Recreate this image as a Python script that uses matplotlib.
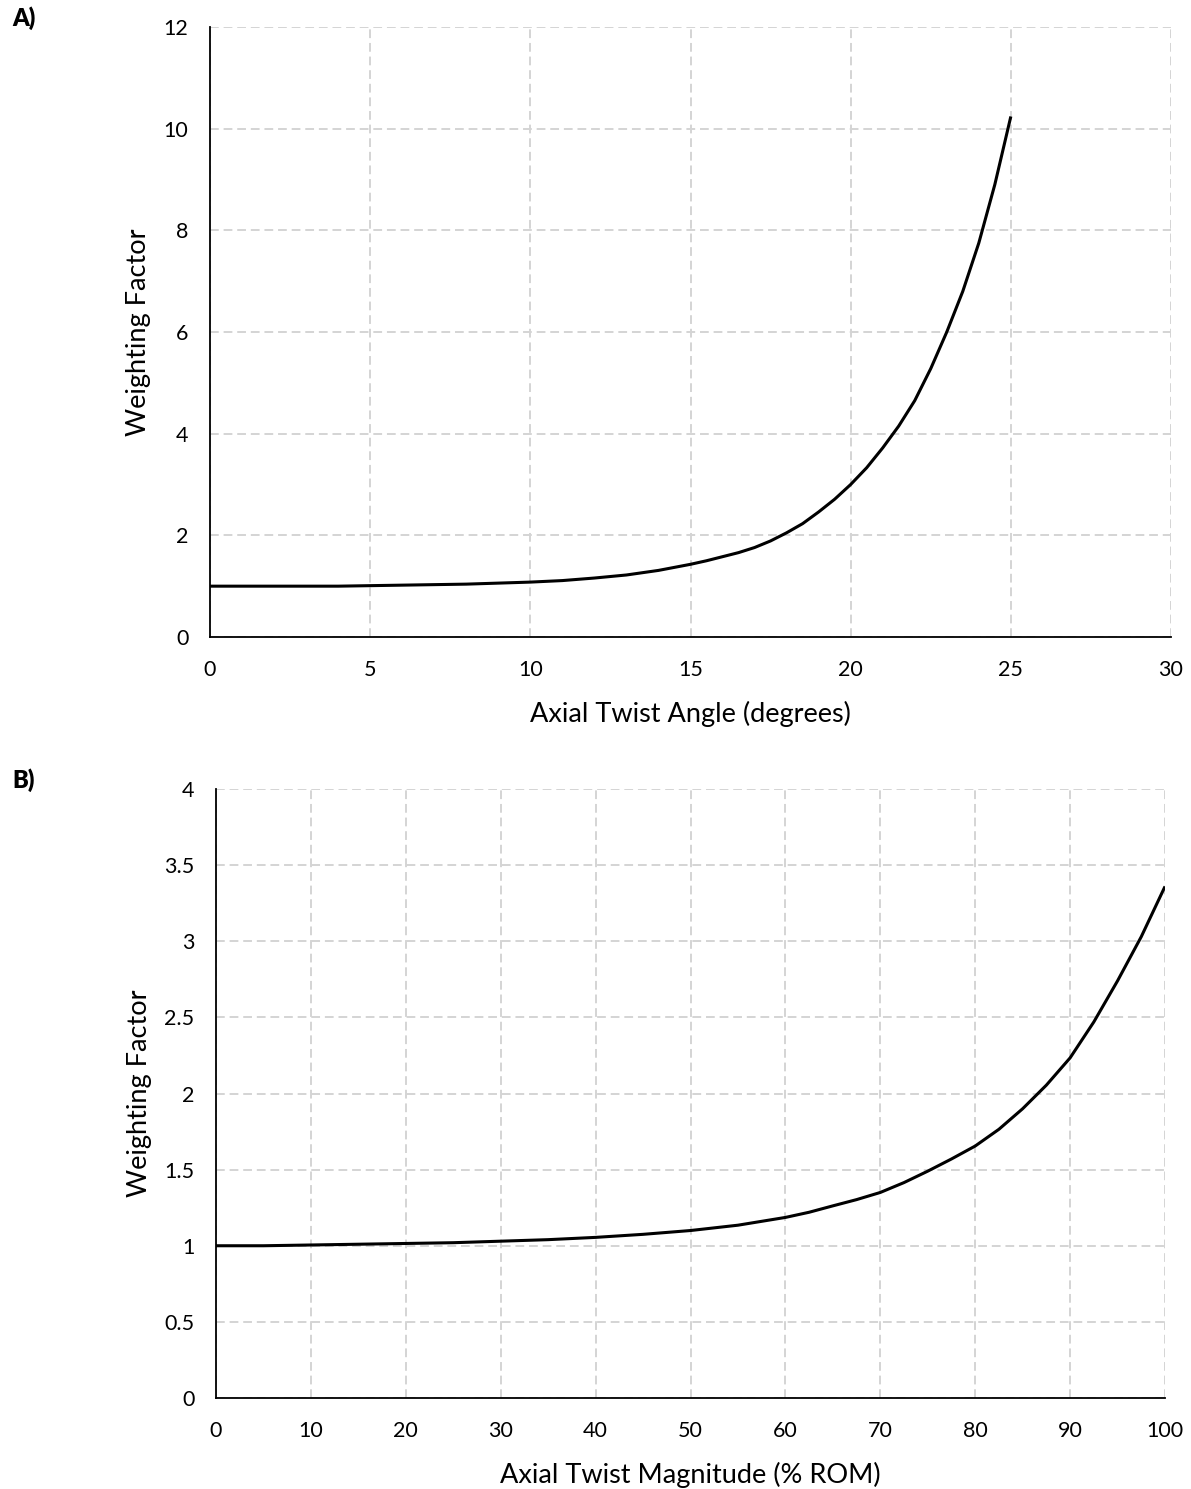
import numpy as np
import matplotlib.pyplot as plt

plt.rcParams['font.family'] = ['Lato', 'DejaVu Sans']

# panel A: weighting factor vs axial twist angle (degrees)
angle_deg = [0, 1, 2, 3, 4, 5, 6, 7, 8, 9, 10, 11, 12, 13, 14, 15, 15.5, 16, 16.5,
             17, 17.5, 18, 18.5, 19, 19.5, 20, 20.5, 21, 21.5, 22, 22.5, 23, 23.5,
             24, 24.5, 25]
weight_a = [1.00, 1.00, 1.00, 1.00, 1.00, 1.01, 1.02, 1.03, 1.04, 1.06, 1.08, 1.11,
            1.16, 1.22, 1.31, 1.43, 1.50, 1.58, 1.66, 1.76, 1.89, 2.05, 2.23, 2.46,
            2.71, 3.00, 3.33, 3.72, 4.15, 4.65, 5.28, 6.00, 6.80, 7.75, 8.90, 10.24]

# panel B: weighting factor vs axial twist magnitude (% ROM)
rom_pct = [0, 5, 10, 15, 20, 25, 30, 35, 40, 45, 50, 55, 60, 62.5, 65, 67.5, 70,
           72.5, 75, 77.5, 80, 82.5, 85, 87.5, 90, 92.5, 95, 97.5, 100]
weight_b = [1.00, 1.00, 1.005, 1.01, 1.015, 1.02, 1.03, 1.04, 1.055, 1.075, 1.10,
            1.135, 1.186, 1.22, 1.262, 1.303, 1.35, 1.415, 1.49, 1.57, 1.655, 1.765,
            1.90, 2.055, 2.234, 2.47, 2.74, 3.03, 3.36]

W, H = 1191, 1489
fig = plt.figure(figsize=(W / 100, H / 100), dpi=100)

ax_a = fig.add_axes([210 / W, 1 - 637 / H, 961 / W, 610 / H])
ax_b = fig.add_axes([216 / W, 1 - 1398 / H, 949 / W, 609 / H])


def style(ax, xlim, ylim, xticks, yticks, xlabel):
    ax.set_xlim(*xlim)
    ax.set_ylim(*ylim)
    ax.set_xticks(xticks)
    ax.set_yticks(yticks)
    ax.grid(True, color='#d4d4d4', linestyle=(0, (4.5, 2.5)), linewidth=1.4)
    ax.set_axisbelow(True)
    for s in ['top', 'right']:
        ax.spines[s].set_visible(False)
    for s in ['left', 'bottom']:
        ax.spines[s].set_linewidth(1.3)
        ax.spines[s].set_color('black')
    ax.tick_params(length=0, labelsize=15.5)
    ax.tick_params(axis='x', pad=16.5)
    ax.tick_params(axis='y', pad=15.5)
    ax.set_xlabel(xlabel, fontsize=19.5, labelpad=15)
    ax.set_ylabel('Weighting Factor', fontsize=19.5, labelpad=9)


ax_a.plot(angle_deg, weight_a, color='black', linewidth=2.2, solid_capstyle='butt')
style(ax_a, (0, 30), (0, 12), range(0, 31, 5), range(0, 13, 2),
      'Axial Twist Angle (degrees)')

ax_b.plot(rom_pct, weight_b, color='black', linewidth=2.2, solid_capstyle='butt')
style(ax_b, (0, 100), (0, 4), range(0, 101, 10), np.arange(0, 4.01, 0.5),
      'Axial Twist Magnitude (% ROM)')
ax_b.set_yticklabels(['0', '0.5', '1', '1.5', '2', '2.5', '3', '3.5', '4'])

fig.text(12 / W, 1 - 18 / H, 'A)', fontsize=17, fontweight='heavy', va='center')
fig.text(12 / W, 1 - 780 / H, 'B)', fontsize=17, fontweight='heavy', va='center')

fig.savefig('out.png', dpi=100)
